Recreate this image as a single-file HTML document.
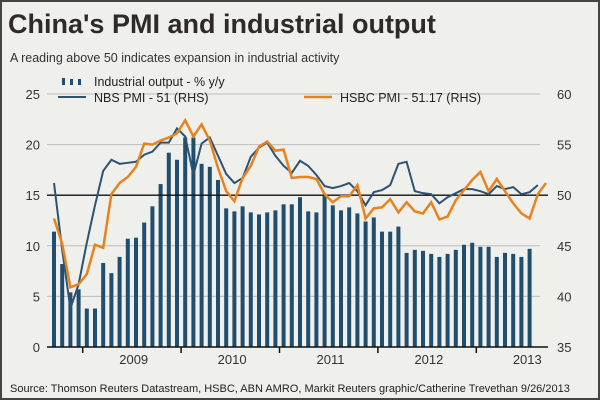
<!DOCTYPE html>
<html><head><meta charset="utf-8"><style>
body{margin:0;background:#fff}
#wrap{position:relative;width:600px;height:400px;background:#efefec;box-sizing:border-box;border:2px solid #444;overflow:hidden;font-family:"Liberation Sans",sans-serif}
</style></head><body>
<div id="wrap">
<svg id="chart" width="600" height="400" style="position:absolute;left:-2px;top:-2px">
<text x="8" y="33" font-size="27" font-weight="bold" fill="#2e2a28">China's PMI and industrial output</text>
<text x="10" y="62" font-size="12.5" fill="#333">A reading above 50 indicates expansion in industrial activity</text>
<g id="grid"></g><g id="bars"></g><g id="lines"></g><g id="axes"></g>
<g>
<g>
<rect x="62" y="78" width="3" height="7" fill="#1f4e6e"/><rect x="70" y="79" width="3" height="6" fill="#1f4e6e"/><rect x="78" y="79" width="3" height="6" fill="#1f4e6e"/>
<text x="94" y="86" font-size="12.5" fill="#222">Industrial output - % y/y</text></g>
<g>
<line x1="58" y1="97" x2="86" y2="97" stroke="#2d5370" stroke-width="2"/>
<text x="94" y="102" font-size="12.5" fill="#222">NBS PMI - 51 (RHS)</text></g>
<g>
<line x1="304" y1="97" x2="332" y2="97" stroke="#e8821e" stroke-width="2.5"/>
<text x="340" y="102" font-size="12.5" fill="#222">HSBC PMI - 51.17 (RHS)</text></g>
</g>
<text x="10" y="392" font-size="11" fill="#222">Source: Thomson Reuters Datastream, HSBC, ABN AMRO, Markit Reuters graphic/Catherine Trevethan 9/26/2013</text>
</svg>
</div>
<script>
// months indexed from Sep 2008
const output = [11.4,8.2,5.4,5.7,
3.8,3.8,8.3,7.3,8.9,10.7,10.8,12.3,13.9,16.1,19.2,18.5,
20.7,20.7,18.1,17.8,16.5,13.7,13.4,13.9,13.3,13.1,13.3,13.5,
14.1,14.1,14.8,13.4,13.3,15.1,14.0,13.5,13.8,13.2,12.4,12.8,
11.4,11.4,11.9,9.3,9.6,9.5,9.2,8.9,9.2,9.6,10.1,10.3,
9.9,9.9,8.9,9.3,9.2,8.9,9.7];
const nbs = [51.2,44.6,38.8,41.2,
45.3,49.0,52.4,53.5,53.1,53.2,53.3,54.0,54.3,55.2,55.2,56.6,
55.8,52.0,55.1,55.7,53.9,52.1,51.2,51.7,53.8,54.7,55.2,53.9,
52.9,52.2,53.4,52.9,52.0,50.9,50.7,50.9,51.2,50.4,49.0,50.3,
50.5,51.0,53.1,53.3,50.4,50.2,50.1,49.2,49.8,50.2,50.6,50.6,
50.4,50.1,50.9,50.6,50.8,50.1,50.3,51.0];
const hsbc = [47.7,45.2,40.9,41.2,
42.2,45.1,44.8,50.1,51.2,51.8,52.8,55.1,55.0,55.4,55.7,56.1,
57.4,55.8,57.0,55.4,52.7,50.4,49.4,51.7,52.9,54.8,55.3,54.4,
54.5,51.7,51.8,51.8,51.6,50.1,49.3,49.9,49.9,51.0,47.7,48.7,
48.8,49.6,48.3,49.3,48.4,48.2,49.3,47.6,47.9,49.5,50.5,51.5,
52.3,50.4,51.6,50.4,49.2,48.2,47.7,50.1,51.2];
const leftTicks = [0,5,10,15,20,25];
const rightTicks = [35,40,45,50,55,60];
const years = ["2009","2010","2011","2012","2013"];
const NS="http://www.w3.org/2000/svg";
const X0=47, X1=548, Y0=347, Y1=94;
const xM = i => 82.7 + 8.2*(i-4+0.5);
const yL = v => Y0 - (v/25)*(Y0-Y1);
const yR = v => Y0 - ((v-35)/25)*(Y0-Y1);
function mk(tag,attrs,parent){const e=document.createElementNS(NS,tag);for(const k in attrs)e.setAttribute(k,attrs[k]);document.getElementById(parent).appendChild(e);return e;}
leftTicks.forEach((t,i)=>{
  if(t>0 && t!==15){const g=mk('line',{x1:X0,x2:X1-8,y1:yL(t),y2:yL(t),stroke:'#bdbdbb','stroke-width':1},'grid');
  
  }
  const l=mk('text',{x:40,y:yL(t)+5,'font-size':13,'text-anchor':'end',fill:'#333'},'axes');l.textContent=t;
  
  
});
rightTicks.forEach(t=>{
  const l=mk('text',{x:557,y:yR(t)+5,'font-size':13,fill:'#333'},'axes');l.textContent=t;
  
  
});
output.forEach((v,i)=>{
  const r=mk('rect',{x:xM(i)-2,y:yL(v),width:4,height:Y0-yL(v),fill:'#1f4e6e'},'bars');
  
  
});
const ref=mk('line',{x1:X0,x2:X1,y1:yR(50),y2:yR(50),stroke:'#111','stroke-width':1.3},'lines');


const p1=mk('polyline',{points:nbs.map((v,i)=>xM(i)+','+yR(v)).join(' '),fill:'none',stroke:'#2d5370','stroke-width':2},'lines');


const p2=mk('polyline',{points:hsbc.map((v,i)=>xM(i)+','+yR(v)).join(' '),fill:'none',stroke:'#e8821e','stroke-width':2.5},'lines');


const ax=mk('line',{x1:X0,x2:X1,y1:Y0,y2:Y0,stroke:'#111','stroke-width':1.5},'axes');


years.forEach((y,k)=>{
  const tx=xM(4+12*k)-4.1;
  const t=mk('line',{x1:tx,x2:tx,y1:Y0,y2:Y0+6,stroke:'#111','stroke-width':1.5},'axes');
  
  
  const l=mk('text',{x:tx+51,y:Y0+17,'font-size':13,'text-anchor':'middle',fill:'#333'},'axes');l.textContent=y;
  
  
});
</script>
</body></html>
